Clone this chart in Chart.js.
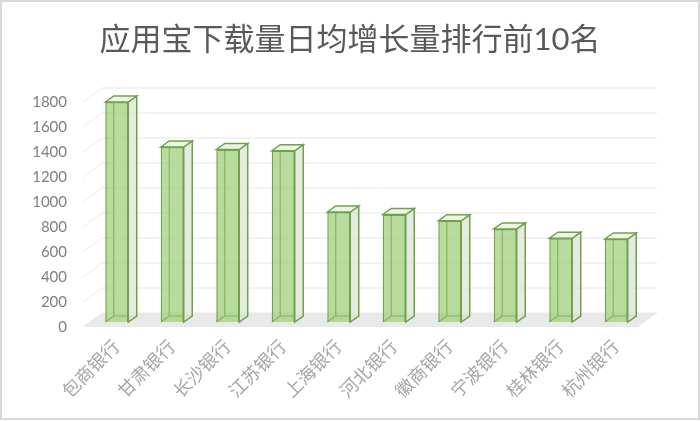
<!DOCTYPE html>
<html>
<head>
<meta charset="utf-8">
<script src="https://cdn.jsdelivr.net/npm/chart.js@4.4.1/dist/chart.umd.min.js"></script>
<style>
  html, body { margin: 0; padding: 0; background: #ffffff; }
  #wrap { width: 700px; height: 421px; position: relative; }
</style>
</head>
<body>
<div id="wrap"><canvas id="c"></canvas></div>
<script>
// ---- data ----
const chartTitle = '应用宝下载量日均增长量排行前10名';
const categories = ['包商银行', '甘肃银行', '长沙银行', '江苏银行', '上海银行', '河北银行', '徽商银行', '宁波银行', '桂林银行', '杭州银行'];
const dailyGrowth = [1760, 1400, 1380, 1370, 880, 860, 810, 745, 670, 664];
const yTickMin = 0;
const yTickMax = 1800;
const yTickStep = 200;

// ---- 3D styling ----
const FONT = "Lato, 'Noto Sans CJK SC', sans-serif";
const green = '#6fa24a';
const frontOff = { dx: -6, dy: 5 };   // plane of axis labels / floor front
const backOff = { dx: 13, dy: -9 };   // back wall plane
const barDepth = { dx: 8.5, dy: -6 };

const threeD = {
  id: 'threeD',
  beforeDatasetsDraw(chart) {
    const { ctx, chartArea: a, scales } = chart;
    const ys = scales.y;
    const L = a.left, R = a.right;
    ctx.save();
    ctx.lineWidth = 1;
    for (let v = yTickMin; v <= yTickMax; v += yTickStep) {
      const p = ys.getPixelForValue(v);
      ctx.strokeStyle = '#ebebeb';
      ctx.beginPath();
      ctx.moveTo(L + frontOff.dx, p + frontOff.dy);
      ctx.lineTo(L + backOff.dx, p + backOff.dy);
      ctx.stroke();
      ctx.strokeStyle = '#e6e6e6';
      ctx.beginPath();
      ctx.moveTo(L + backOff.dx, p + backOff.dy);
      ctx.lineTo(R + backOff.dx, p + backOff.dy);
      ctx.stroke();
    }
    const p0 = ys.getPixelForValue(0);
    ctx.fillStyle = '#e9e9e9';
    ctx.beginPath();
    ctx.moveTo(L + frontOff.dx, p0 + frontOff.dy);
    ctx.lineTo(R + frontOff.dx, p0 + frontOff.dy);
    ctx.lineTo(R + backOff.dx, p0 + backOff.dy);
    ctx.lineTo(L + backOff.dx, p0 + backOff.dy);
    ctx.closePath();
    ctx.fill();
    ctx.restore();
  },
  afterDatasetsDraw(chart) {
    const { ctx } = chart;
    const meta = chart.getDatasetMeta(0);
    const dx = barDepth.dx, dy = barDepth.dy;
    ctx.save();
    meta.data.forEach(bar => {
      const { x, y, base, width } = bar.getProps(['x', 'y', 'base', 'width'], true);
      const fl = x - width / 2, fr = x + width / 2;
      const top = y, bot = base;
      ctx.strokeStyle = 'rgba(95,150,60,0.55)';
      ctx.lineWidth = 1.2;
      ctx.beginPath();
      ctx.moveTo(fl + dx, top + dy);
      ctx.lineTo(fl + dx, bot + dy);
      ctx.lineTo(fr + dx, bot + dy);
      ctx.moveTo(fl, bot);
      ctx.lineTo(fl + dx, bot + dy);
      ctx.stroke();
      ctx.fillStyle = 'rgba(222,230,216,0.8)';
      ctx.strokeStyle = green;
      ctx.lineWidth = 1.5;
      ctx.beginPath();
      ctx.moveTo(fr, top);
      ctx.lineTo(fr + dx, top + dy);
      ctx.lineTo(fr + dx, bot + dy);
      ctx.lineTo(fr, bot);
      ctx.closePath();
      ctx.fill();
      ctx.stroke();
      ctx.fillStyle = 'rgba(236,245,228,0.95)';
      ctx.beginPath();
      ctx.moveTo(fl, top);
      ctx.lineTo(fl + dx, top + dy);
      ctx.lineTo(fr + dx, top + dy);
      ctx.lineTo(fr, top);
      ctx.closePath();
      ctx.fill();
      ctx.stroke();
    });
    ctx.restore();
  },
  afterDraw(chart) {
    const { ctx } = chart;
    ctx.save();
    ctx.strokeStyle = '#d9d9d9';
    ctx.lineWidth = 2;
    ctx.strokeRect(1, 1, 698, 418);
    ctx.restore();
  }
};

new Chart(document.getElementById('c'), {
  type: 'bar',
  data: {
    labels: categories,
    datasets: [{
      data: dailyGrowth,
      backgroundColor: 'rgba(163,210,128,0.78)',
      borderColor: green,
      borderWidth: 1.5,
      categoryPercentage: 1,
      barPercentage: 0.414
    }]
  },
  options: {
    responsive: true,
    maintainAspectRatio: false,
    animation: false,
    devicePixelRatio: 1,
    layout: { padding: 0 },
    plugins: {
      legend: { display: false },
      tooltip: { enabled: false },
      title: {
        display: true,
        text: chartTitle,
        color: '#595959',
        font: { family: FONT, size: 31, weight: 'normal', lineHeight: 1.2 },
        padding: { top: 21, bottom: 38.8 }
      }
    },
    scales: {
      x: {
        grid: { display: false, drawTicks: false },
        border: { display: false },
        ticks: {
          autoSkip: false,
          maxRotation: 45,
          minRotation: 45,
          padding: 14,
          color: '#a6a6a6',
          font: { family: FONT, size: 18 }
        },
        afterFit(s) { s.height = 99; }
      },
      y: {
        min: yTickMin,
        max: yTickMax,
        grid: { display: false, drawTicks: false },
        border: { display: false },
        ticks: {
          stepSize: yTickStep,
          padding: 22,
          labelOffset: 5,
          color: '#7f7f7f',
          font: { family: FONT, size: 15 },
          callback: v => String(v)
        },
        afterFit(s) { s.width = 89; }
      },
      yRight: {
        position: 'right',
        min: yTickMin,
        max: yTickMax,
        grid: { display: false, drawTicks: false },
        border: { display: false },
        ticks: { display: false },
        afterFit(s) { s.width = 56; }
      }
    }
  },
  plugins: [threeD]
});
</script>
</body>
</html>
